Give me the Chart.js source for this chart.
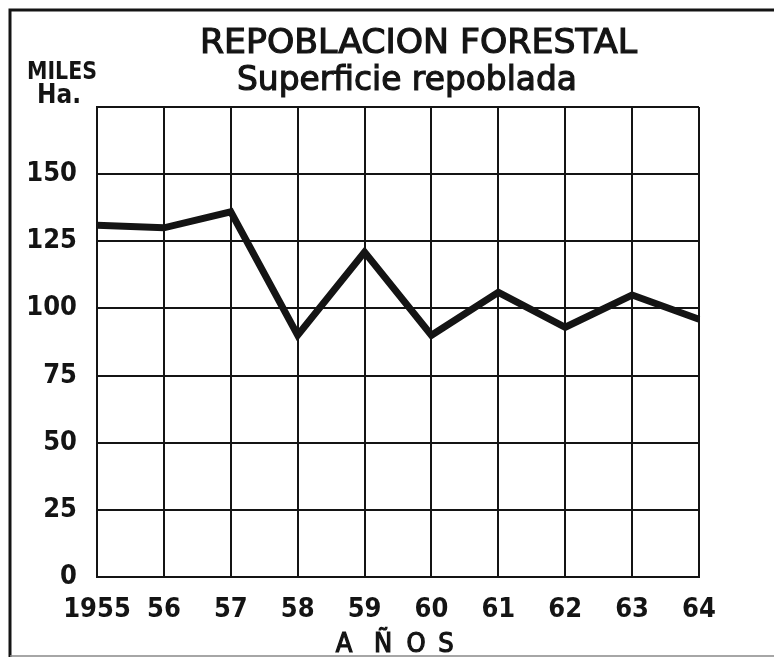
<!DOCTYPE html>
<html>
<head>
<meta charset="utf-8">
<script src="https://cdn.jsdelivr.net/npm/chart.js@4"></script>
<style>
  html, body { margin: 0; padding: 0; background: #fff; }
  canvas { display: block; }
</style>
</head>
<body>
<canvas id="chart" width="774" height="658"></canvas>
<script>
// values (thousands of hectares)
const years = ["1955", "56", "57", "58", "59", "60", "61", "62", "63", "64"];
const surface = [131, 130, 136, 90, 121, 90, 106, 93, 105, 96];
const yTicksShown = [0, 25, 50, 75, 100, 125, 150];

const INK = "#141414";

// squeeze a string into a given width, optional stroke to thicken it
function fitText(ctx, text, x, y, width, font, thicken) {
  ctx.save();
  ctx.font = font;
  const w = ctx.measureText(text).width;
  ctx.translate(x, y);
  ctx.scale(width / w, 1);
  ctx.fillText(text, 0, 0);
  if (thicken) {
    ctx.lineWidth = thicken;
    ctx.strokeStyle = ctx.fillStyle;
    ctx.strokeText(text, 0, 0);
  }
  ctx.restore();
}

const decor = {
  id: "decor",
  afterDraw(chart) {
    const ctx = chart.ctx;
    ctx.save();
    // outer frame
    ctx.strokeStyle = INK;
    ctx.lineWidth = 3;
    ctx.beginPath();
    ctx.moveTo(10, 657);
    ctx.lineTo(10, 10);
    ctx.lineTo(774, 10);
    ctx.stroke();
    ctx.strokeStyle = "#888";
    ctx.lineWidth = 1.5;
    ctx.beginPath();
    ctx.moveTo(10, 656);
    ctx.lineTo(774, 656);
    ctx.stroke();

    ctx.fillStyle = INK;
    ctx.textBaseline = "alphabetic";
    ctx.textAlign = "left";
    fitText(ctx, "REPOBLACION FORESTAL", 200, 53, 437, "34px 'DejaVu Sans'", 1.2);
    fitText(ctx, "Superficie repoblada", 237, 90, 340, "34px 'DejaVu Sans'", 1.2);
    fitText(ctx, "MILES", 27, 79, 70, "bold 25px 'DejaVu Sans Condensed'");
    fitText(ctx, "Ha.", 37, 103, 44, "bold 27px 'DejaVu Sans Condensed'");

    // axis name, letter by letter
    ctx.font = "27px 'DejaVu Sans Condensed'";
    ctx.textAlign = "center";
    ctx.lineWidth = 1.2;
    ctx.strokeStyle = INK;
    const letters = ["A", "Ñ", "O", "S"];
    const centers = [344, 383, 416, 446];
    letters.forEach((l, i) => {
      ctx.fillText(l, centers[i], 652);
      ctx.strokeText(l, centers[i], 652);
    });
    ctx.restore();
  }
};

new Chart(document.getElementById("chart"), {
  type: "line",
  data: {
    labels: years,
    datasets: [{
      data: surface,
      borderColor: INK,
      borderWidth: 7,
      pointRadius: 0,
      tension: 0,
      fill: false,
      borderJoinStyle: "miter"
    }]
  },
  options: {
    responsive: false,
    animation: false,
    layout: { padding: { top: 107, right: 75, bottom: 0, left: 0 } },
    plugins: {
      legend: { display: false },
      title: { display: false },
      tooltip: { enabled: false }
    },
    scales: {
      x: {
        offset: false,
        grid: { color: INK, lineWidth: 2, drawTicks: false },
        border: { color: INK, width: 2 },
        ticks: {
          color: INK,
          padding: 17,
          maxRotation: 0,
          autoSkip: false,
          font: { family: "'DejaVu Sans Condensed'", size: 27, weight: "bold" }
        },
        afterFit(scale) { scale.height = 81; }
      },
      y: {
        min: 0,
        max: 175,
        grid: { color: INK, lineWidth: 2, drawTicks: false },
        border: { color: INK, width: 2 },
        ticks: {
          stepSize: 25,
          color: INK,
          padding: 20,
          font: { family: "'DejaVu Sans Condensed'", size: 27, weight: "bold" },
          callback: (v) => (yTicksShown.includes(v) ? String(v) : "")
        },
        afterFit(scale) { scale.width = 97; }
      }
    }
  },
  plugins: [decor]
});
</script>
</body>
</html>
